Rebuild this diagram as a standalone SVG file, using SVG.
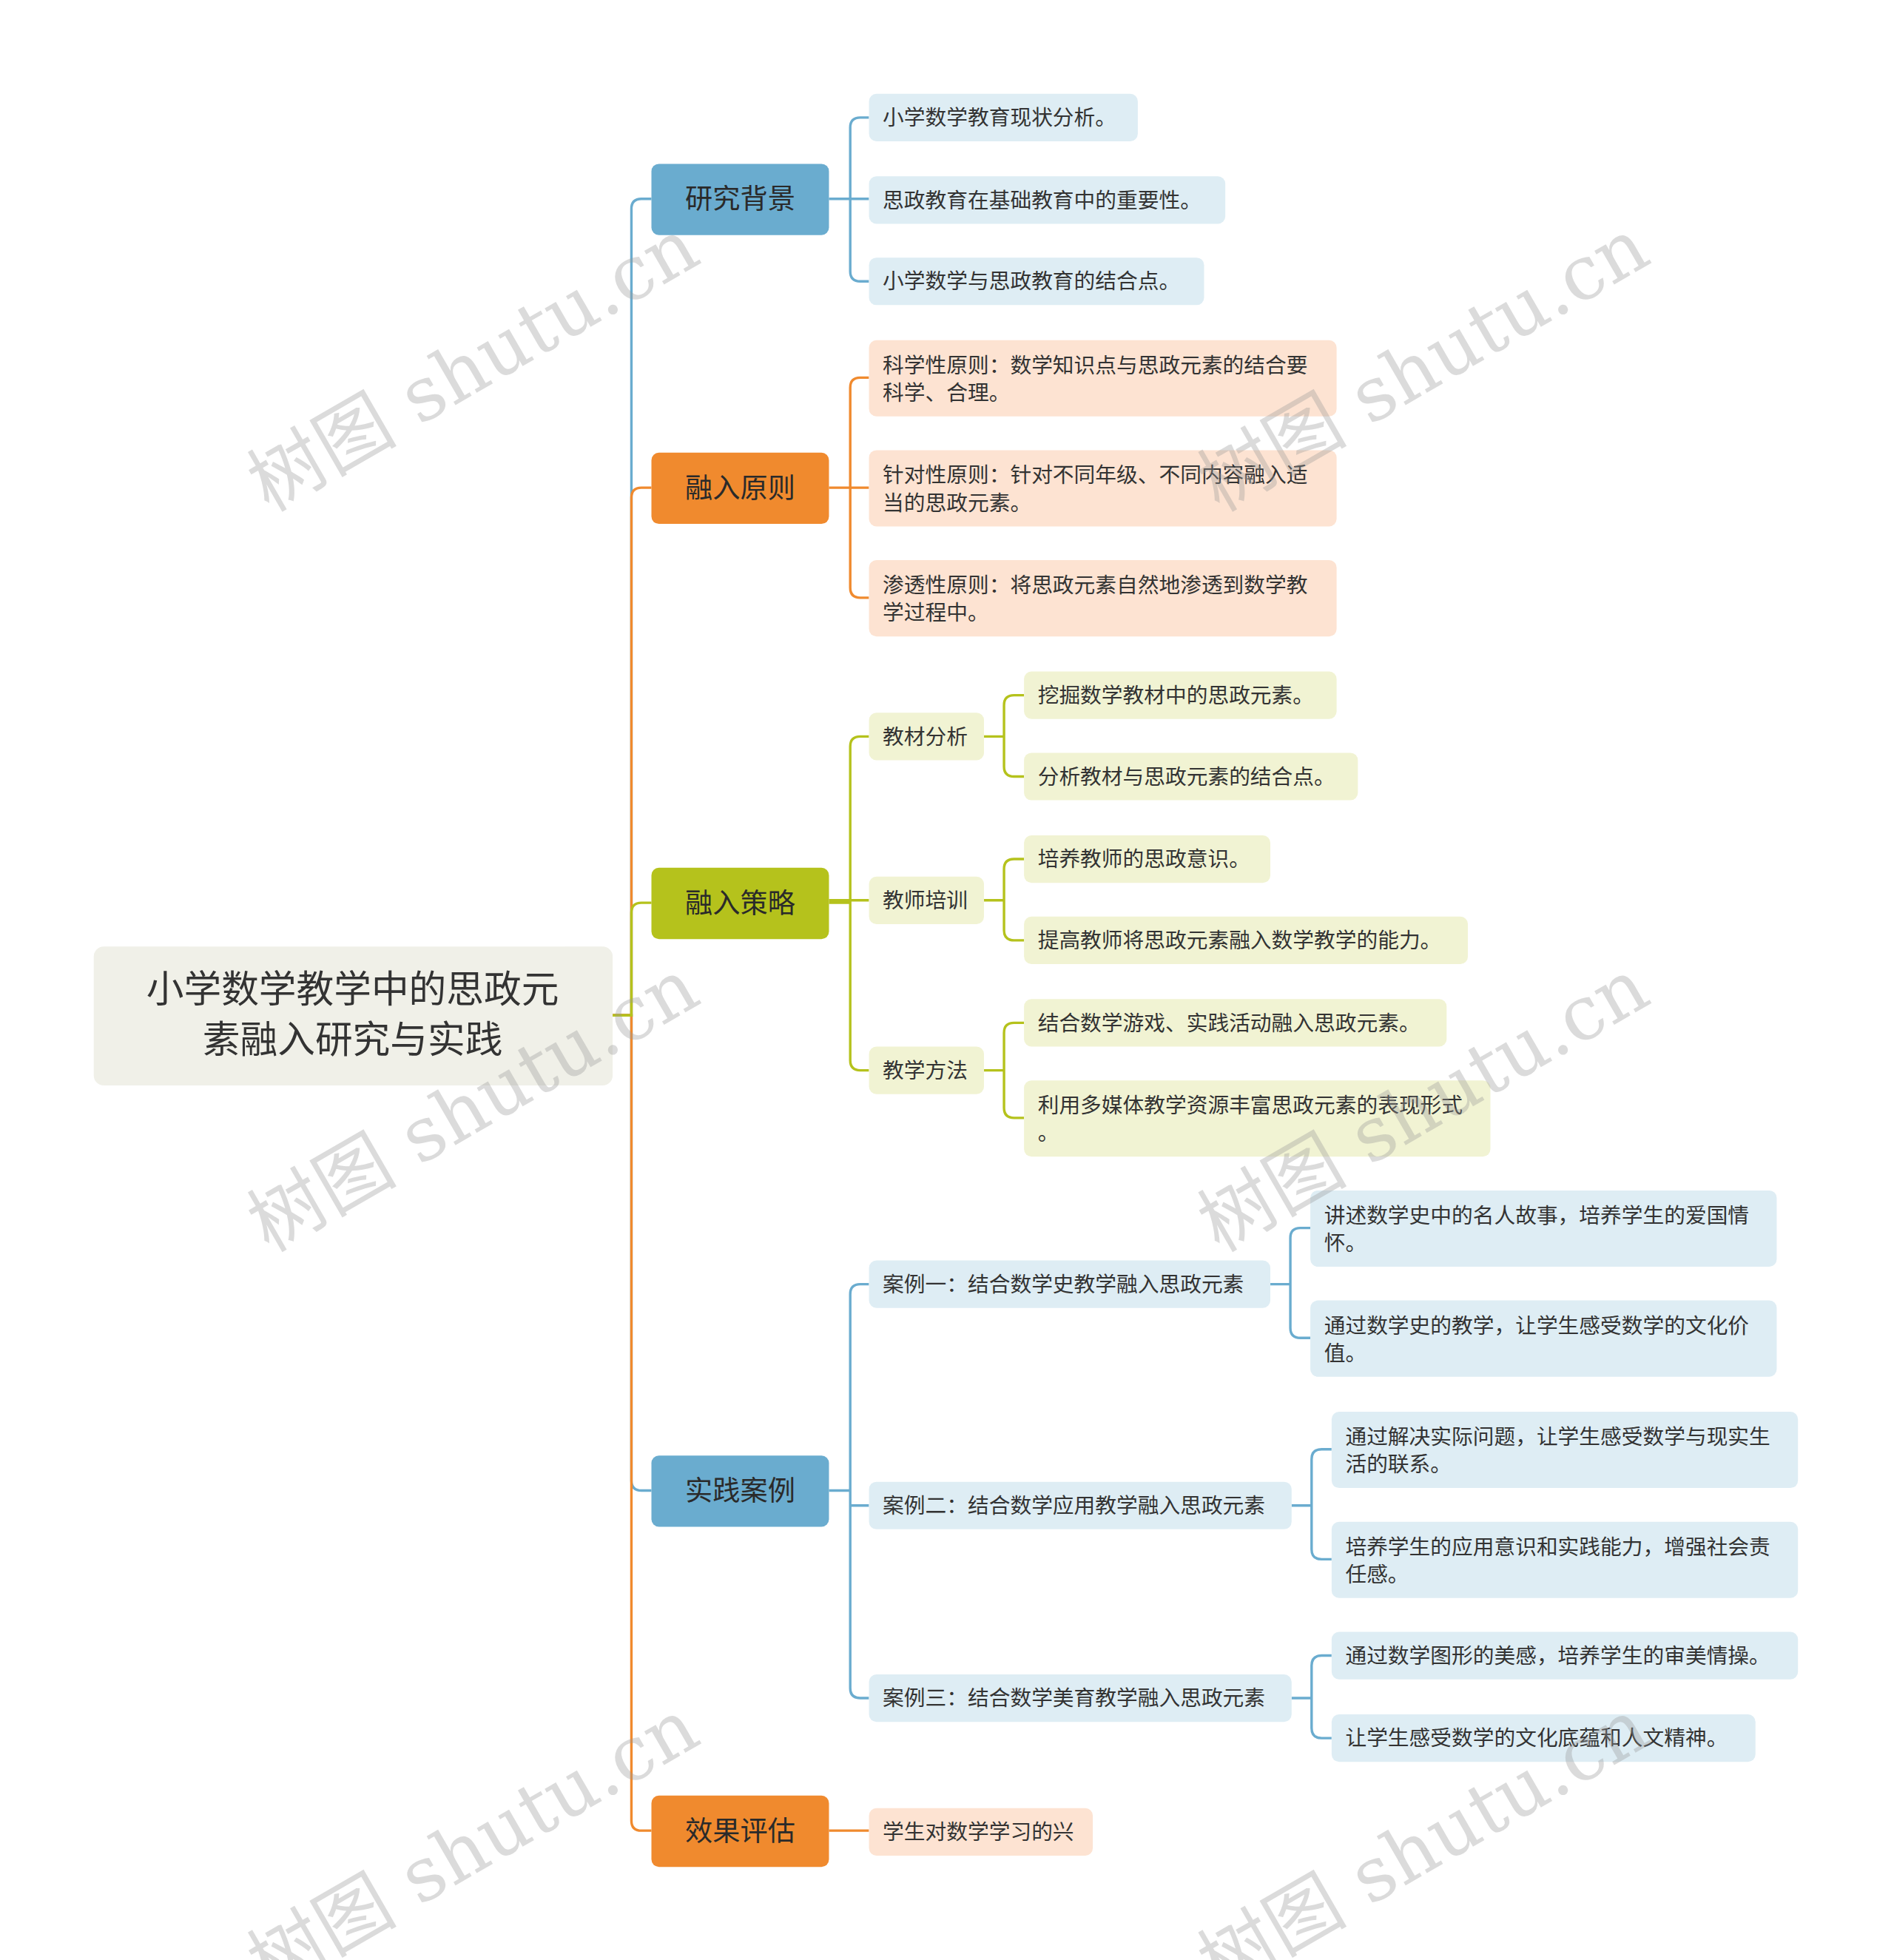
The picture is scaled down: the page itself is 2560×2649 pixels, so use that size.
<svg xmlns="http://www.w3.org/2000/svg" width="2560" height="2649" viewBox="0 0 2560 2649">
<style>
text{font-family:"Noto Sans CJK SC","Liberation Sans",sans-serif;}
.t{font-size:17px;fill:#333;}
.l1{font-size:22px;fill:#2a2a2a;text-anchor:middle;}
.rt{font-size:30px;fill:#333;text-anchor:middle;}
.c{fill:none;stroke-width:2}
.b{stroke:#6aaccf}.o{stroke:#f08a2e}.g{stroke:#b5c21c}
.wm{font-size:60px;fill:#999;fill-opacity:0.35;font-family:"DejaVu Serif","Noto Sans CJK SC",serif}
</style>
<rect width="2560" height="2649" fill="#fff"/>
<g transform="scale(1.69)">
<g id="connectors">
<path class="c b" d="M490 812H505V167Q505 159 513 159H521"/>
<path class="c b" d="M490 812H505V1184Q505 1192 513 1192H521"/>
<path class="c o" d="M490 812H505V398Q505 390 513 390H521"/>
<path class="c o" d="M490 812H505V1456Q505 1464 513 1464H521"/>
<path class="c g" d="M490 812H505V730Q505 722 513 722H521"/>
<path class="c b" d="M663 159H680V102Q680 94 688 94H695M663 159H695M680 159V217Q680 225 688 225H695"/>
<path class="c o" d="M663 390H680V310Q680 302 688 302H695M663 390H695M680 390V470Q680 478 688 478H695"/>
<path class="c g" d="M663 722H680V597Q680 589 688 589H695M663 720H695M680 722V848Q680 856 688 856H695"/>
<path class="c b" d="M663 1192H680V1035Q680 1027 688 1027H695M680 1192V1350Q680 1358 688 1358H695M680 1204H695"/>
<path class="c o" d="M663 1464H695"/>
<path class="c g" d="M787 589H803V564Q803 556 811 556H819M803 589V613Q803 621 811 621H819"/>
<path class="c g" d="M787 720H803V695Q803 687 811 687H819M803 720V744Q803 752 811 752H819"/>
<path class="c g" d="M787 856H803V826Q803 818 811 818H819M803 856V886Q803 894 811 894H819"/>
<path class="c b" d="M1016 1027H1032V990Q1032 982 1040 982H1048M1032 1027V1062Q1032 1070 1040 1070H1048"/>
<path class="c b" d="M1033 1204H1049V1167Q1049 1159 1057 1159H1065M1049 1204V1239Q1049 1247 1057 1247H1065"/>
<path class="c b" d="M1033 1358H1049V1332Q1049 1324 1057 1324H1065M1049 1358V1382Q1049 1390 1057 1390H1065"/>
</g>
<g id="root"><rect x="75" y="757" width="415" height="111" rx="8" fill="#f0f0e8"/><text class="rt" x="282" y="802">小学数学教学中的思政元</text><text class="rt" x="282" y="842">素融入研究与实践</text></g>
<g id="n1"><rect x="521" y="131" width="142" height="57" rx="6" fill="#6aaccf"/><text class="l1" x="592" y="167">研究背景</text></g>
<g id="n2"><rect x="521" y="362" width="142" height="57" rx="6" fill="#f08a2e"/><text class="l1" x="592" y="398">融入原则</text></g>
<g id="n3"><rect x="521" y="694" width="142" height="57" rx="6" fill="#b5c21c"/><text class="l1" x="592" y="730">融入策略</text></g>
<g id="n4"><rect x="521" y="1164" width="142" height="57" rx="6" fill="#6aaccf"/><text class="l1" x="592" y="1200">实践案例</text></g>
<g id="n5"><rect x="521" y="1436" width="142" height="57" rx="6" fill="#f08a2e"/><text class="l1" x="592" y="1472">效果评估</text></g>
<g id="n1a"><rect x="695" y="75" width="215" height="38" rx="6" fill="#deedf4"/><text class="t" x="706" y="100">小学数学教育现状分析。</text></g>
<g id="n1b"><rect x="695" y="141" width="285" height="38" rx="6" fill="#deedf4"/><text class="t" x="706" y="166">思政教育在基础教育中的重要性。</text></g>
<g id="n1c"><rect x="695" y="206" width="268" height="38" rx="6" fill="#deedf4"/><text class="t" x="706" y="231">小学数学与思政教育的结合点。</text></g>
<g id="n2a"><rect x="695" y="272" width="374" height="61" rx="6" fill="#fde3d2"/><text class="t" x="706" y="298">科学性原则：数学知识点与思政元素的结合要</text><text class="t" x="706" y="320">科学、合理。</text></g>
<g id="n2b"><rect x="695" y="360" width="374" height="61" rx="6" fill="#fde3d2"/><text class="t" x="706" y="386">针对性原则：针对不同年级、不同内容融入适</text><text class="t" x="706" y="408">当的思政元素。</text></g>
<g id="n2c"><rect x="695" y="448" width="374" height="61" rx="6" fill="#fde3d2"/><text class="t" x="706" y="474">渗透性原则：将思政元素自然地渗透到数学教</text><text class="t" x="706" y="496">学过程中。</text></g>
<g id="n3a"><rect x="695" y="570" width="92" height="38" rx="6" fill="#f1f3d3"/><text class="t" x="706" y="595">教材分析</text></g>
<g id="n3b"><rect x="695" y="701" width="92" height="38" rx="6" fill="#f1f3d3"/><text class="t" x="706" y="726">教师培训</text></g>
<g id="n3c"><rect x="695" y="837" width="92" height="38" rx="6" fill="#f1f3d3"/><text class="t" x="706" y="862">教学方法</text></g>
<g id="n3a1"><rect x="819" y="537" width="250" height="38" rx="6" fill="#f1f3d3"/><text class="t" x="830" y="562">挖掘数学教材中的思政元素。</text></g>
<g id="n3a2"><rect x="819" y="602" width="267" height="38" rx="6" fill="#f1f3d3"/><text class="t" x="830" y="627">分析教材与思政元素的结合点。</text></g>
<g id="n3b1"><rect x="819" y="668" width="197" height="38" rx="6" fill="#f1f3d3"/><text class="t" x="830" y="693">培养教师的思政意识。</text></g>
<g id="n3b2"><rect x="819" y="733" width="355" height="38" rx="6" fill="#f1f3d3"/><text class="t" x="830" y="758">提高教师将思政元素融入数学教学的能力。</text></g>
<g id="n3c1"><rect x="819" y="799" width="338" height="38" rx="6" fill="#f1f3d3"/><text class="t" x="830" y="824">结合数学游戏、实践活动融入思政元素。</text></g>
<g id="n3c2"><rect x="819" y="864" width="373" height="61" rx="6" fill="#f1f3d3"/><text class="t" x="830" y="890">利用多媒体教学资源丰富思政元素的表现形式</text><text class="t" x="830" y="912">。</text></g>
<g id="n4a"><rect x="695" y="1008" width="321" height="38" rx="6" fill="#deedf4"/><text class="t" x="706" y="1033">案例一：结合数学史教学融入思政元素</text></g>
<g id="n4b"><rect x="695" y="1185" width="338" height="38" rx="6" fill="#deedf4"/><text class="t" x="706" y="1210">案例二：结合数学应用教学融入思政元素</text></g>
<g id="n4c"><rect x="695" y="1339" width="338" height="38" rx="6" fill="#deedf4"/><text class="t" x="706" y="1364">案例三：结合数学美育教学融入思政元素</text></g>
<g id="n4a1"><rect x="1048" y="952" width="373" height="61" rx="6" fill="#deedf4"/><text class="t" x="1059" y="978">讲述数学史中的名人故事，培养学生的爱国情</text><text class="t" x="1059" y="1000">怀。</text></g>
<g id="n4a2"><rect x="1048" y="1040" width="373" height="61" rx="6" fill="#deedf4"/><text class="t" x="1059" y="1066">通过数学史的教学，让学生感受数学的文化价</text><text class="t" x="1059" y="1088">值。</text></g>
<g id="n4b1"><rect x="1065" y="1129" width="373" height="61" rx="6" fill="#deedf4"/><text class="t" x="1076" y="1155">通过解决实际问题，让学生感受数学与现实生</text><text class="t" x="1076" y="1177">活的联系。</text></g>
<g id="n4b2"><rect x="1065" y="1217" width="373" height="61" rx="6" fill="#deedf4"/><text class="t" x="1076" y="1243">培养学生的应用意识和实践能力，增强社会责</text><text class="t" x="1076" y="1265">任感。</text></g>
<g id="n4c1"><rect x="1065" y="1305" width="373" height="38" rx="6" fill="#deedf4"/><text class="t" x="1076" y="1330">通过数学图形的美感，培养学生的审美情操。</text></g>
<g id="n4c2"><rect x="1065" y="1371" width="339" height="38" rx="6" fill="#deedf4"/><text class="t" x="1076" y="1396">让学生感受数学的文化底蕴和人文精神。</text></g>
<g id="n5a"><rect x="695" y="1446" width="179" height="38" rx="6" fill="#fde3d2"/><text class="t" x="706" y="1471">学生对数学学习的兴</text></g>
<g id="watermarks">
<text class="wm" transform="translate(215 410) rotate(-30)">树图 shutu.cn</text>
<text class="wm" transform="translate(975 410) rotate(-30)">树图 shutu.cn</text>
<text class="wm" transform="translate(215 1002) rotate(-30)">树图 shutu.cn</text>
<text class="wm" transform="translate(975 1002) rotate(-30)">树图 shutu.cn</text>
<text class="wm" transform="translate(215 1594) rotate(-30)">树图 shutu.cn</text>
<text class="wm" transform="translate(975 1594) rotate(-30)">树图 shutu.cn</text>
</g>
</g>
</svg>
